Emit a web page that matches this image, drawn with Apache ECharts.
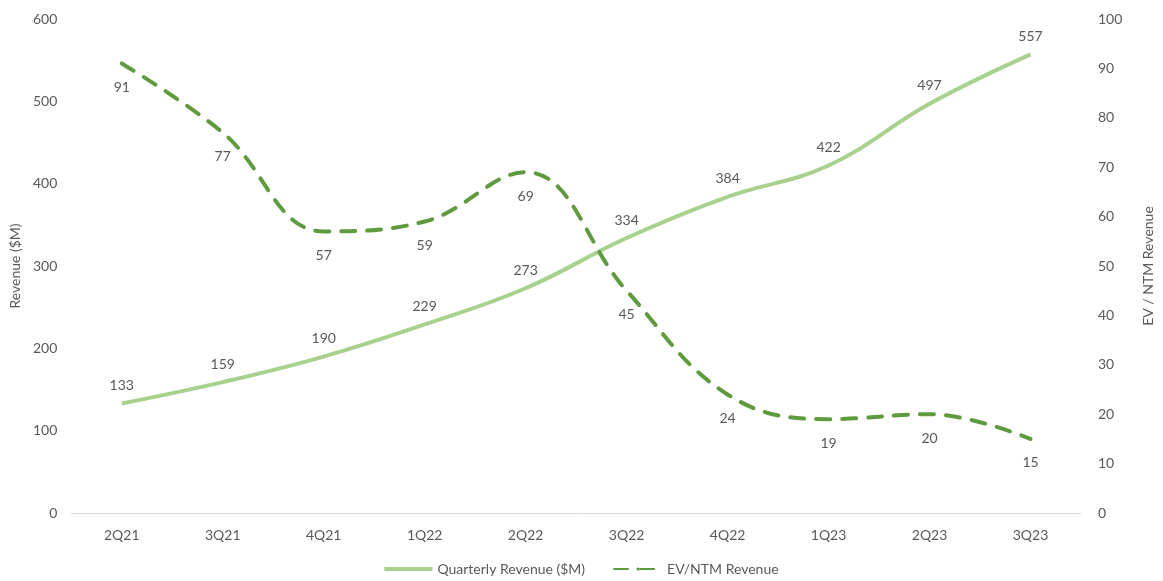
<!DOCTYPE html>
<html>
<head>
<meta charset="utf-8">
<script src="https://cdn.jsdelivr.net/npm/echarts@6/dist/echarts.min.js"></script>
<style>
  html, body { margin: 0; padding: 0; background: #fff; }
  #chart { width: 1163px; height: 581px; }
</style>
</head>
<body>
<div id="chart"></div>
<script>
var quarters = ['2Q21', '3Q21', '4Q21', '1Q22', '2Q22', '3Q22', '4Q22', '1Q23', '2Q23', '3Q23'];
var revenue = [133, 159, 190, 229, 273, 334, 384, 422, 497, 557];
var evNtm = [91, 77, 57, 59, 69, 45, 24, 19, 20, 15];

var font = 'Lato, "Open Sans", sans-serif';
var grey = '#595959';

var chart = echarts.init(document.getElementById('chart'));
chart.setOption({
  textStyle: { fontFamily: font },
  animation: false,
  grid: { left: 71, right: 69, top: 19, bottom: 68 },
  legend: {
    bottom: 0,
    left: 'center',
    itemWidth: 48,
    itemHeight: 4,
    itemGap: 28,
    textStyle: { color: grey, fontSize: 14, fontFamily: font },
    data: [
      { name: 'Quarterly Revenue ($M)', icon: 'rect' },
      { name: 'EV/NTM Revenue' }
    ]
  },
  xAxis: {
    type: 'category',
    data: quarters,
    axisLine: { lineStyle: { color: '#d9d9d9', width: 1 } },
    axisTick: { show: false },
    axisLabel: { color: grey, fontSize: 14, margin: 15 }
  },
  yAxis: [
    {
      type: 'value', min: 0, max: 600, interval: 100,
      name: 'Revenue ($M)', nameLocation: 'middle', nameGap: 45, nameRotate: 90,
      nameTextStyle: { color: grey, fontSize: 14 },
      splitLine: { show: false },
      axisLine: { show: false }, axisTick: { show: false },
      axisLabel: { color: grey, fontSize: 14, margin: 14 }
    },
    {
      type: 'value', min: 0, max: 100, interval: 10,
      name: 'EV / NTM Revenue', nameLocation: 'middle', nameGap: 60, nameRotate: 90,
      nameTextStyle: { color: grey, fontSize: 14 },
      splitLine: { show: false },
      axisLine: { show: false }, axisTick: { show: false },
      axisLabel: { color: grey, fontSize: 14, margin: 17 }
    }
  ],
  series: [
    {
      name: 'Quarterly Revenue ($M)',
      type: 'line',
      data: revenue,
      yAxisIndex: 0,
      smooth: 0.4,
      showSymbol: true,
      symbol: 'circle',
      symbolSize: 0,
      itemStyle: { color: '#a9d18e' },
      lineStyle: { color: '#a9d18e', width: 4 },
      label: { show: true, position: 'top', distance: 11, color: grey, fontSize: 14 },
      emphasis: { disabled: true }
    },
    {
      name: 'EV/NTM Revenue',
      type: 'line',
      data: evNtm,
      yAxisIndex: 1,
      smooth: 0.4,
      showSymbol: true,
      symbol: 'circle',
      symbolSize: 0,
      itemStyle: { color: '#5f9a3e' },
      lineStyle: { color: '#5f9a3e', width: 4, type: [14, 12], cap: 'round' },
      label: { show: true, position: 'bottom', distance: 17, color: grey, fontSize: 14 },
      emphasis: { disabled: true }
    }
  ]
});
</script>
</body>
</html>
